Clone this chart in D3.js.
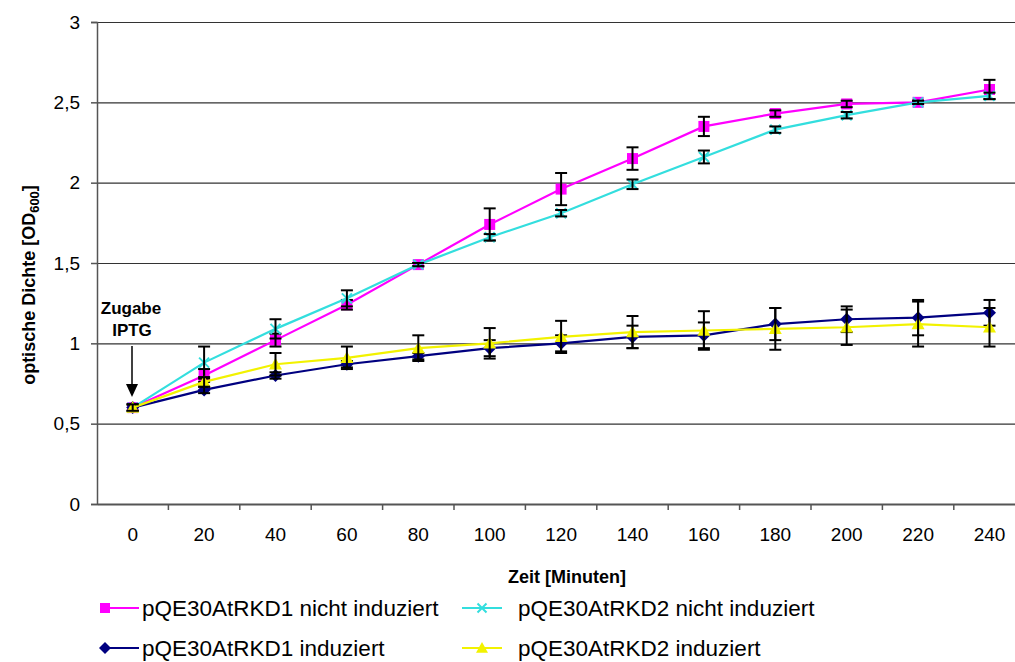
<!DOCTYPE html>
<html><head><meta charset="utf-8">
<script src="https://cdn.jsdelivr.net/npm/d3@7"></script>
<style>
body{margin:0;background:#fff}
text{font-family:"Liberation Sans",Arial,sans-serif;fill:#000}
</style>
</head><body>
<svg id="chart" width="1015" height="662"></svg>
<script>
// ---- data ----
const minutes = [0,20,40,60,80,100,120,140,160,180,200,220,240];
const xTickLabels = ["0","20","40","60","80","100","120","140","160","180","200","220","240"];
const yTicks = [0,0.5,1,1.5,2,2.5,3];
const yTickLabels = ["0","0,5","1","1,5","2","2,5","3"];

const seriesNames = ["pQE30AtRKD1 nicht induziert","pQE30AtRKD2 nicht induziert","pQE30AtRKD1 induziert","pQE30AtRKD2 induziert"];
const rkd1Nicht    = [0.60,0.80,1.02,1.24,1.49,1.74,1.96,2.15,2.35,2.43,2.49,2.50,2.58];
const rkd1NichtErr = [0.02,0.04,0.04,0.03,0.01,0.10,0.10,0.07,0.06,0.02,0.02,0.01,0.06];
const rkd2Nicht    = [0.60,0.88,1.09,1.28,1.49,1.66,1.81,1.99,2.16,2.33,2.42,2.50,2.54];
const rkd2NichtErr = [0.02,0.10,0.06,0.05,0.01,0.02,0.02,0.03,0.04,0.02,0.02,0.01,0.02];
const rkd1Ind      = [0.60,0.71,0.80,0.87,0.92,0.97,1.00,1.04,1.05,1.12,1.15,1.16,1.19];
const rkd1IndErr   = [0.02,0.02,0.02,0.02,0.02,0.05,0.05,0.07,0.08,0.10,0.08,0.11,0.08];
const rkd2Ind      = [0.60,0.76,0.87,0.91,0.97,1.00,1.04,1.07,1.08,1.09,1.10,1.12,1.10];
const rkd2IndErr   = [0.02,0.03,0.07,0.07,0.08,0.095,0.10,0.10,0.12,0.13,0.11,0.14,0.12];

const series = [
  {name:seriesNames[0], values:rkd1Nicht, err:rkd1NichtErr, color:"#ff00ff", marker:"square"},
  {name:seriesNames[1], values:rkd2Nicht, err:rkd2NichtErr, color:"#33dede", marker:"x"},
  {name:seriesNames[2], values:rkd1Ind,   err:rkd1IndErr,   color:"#000080", marker:"diamond"},
  {name:seriesNames[3], values:rkd2Ind,   err:rkd2IndErr,   color:"#f2f200", marker:"triangle"}
];

// ---- layout ----
const svg = d3.select("#chart");
const plotLeft = 97, plotTop = 22, plotBottom = 504, plotRight = 1025.2;
const x = d3.scaleBand().domain(minutes).range([plotLeft, plotRight]).padding(0);
const cx = m => x(m) + x.bandwidth()/2;
const y = d3.scaleLinear().domain([0,3]).range([plotBottom, plotTop]);

// gridlines
svg.append("g").attr("transform",`translate(${plotLeft},0)`)
  .call(d3.axisLeft(y).tickValues(yTicks.filter(v=>v>0)).tickSize(-(plotRight-plotLeft)).tickFormat(""))
  .call(g=>g.select(".domain").remove())
  .call(g=>g.selectAll("line").attr("stroke","#333").attr("stroke-width",1.2));

// y axis
svg.append("g").attr("transform",`translate(${plotLeft},0)`)
  .call(d3.axisLeft(y).tickValues(yTicks).tickFormat((d,i)=>yTickLabels[i]).tickSize(6).tickPadding(11))
  .call(g=>g.select(".domain").attr("stroke","#555").attr("stroke-width",1.5))
  .call(g=>g.selectAll("line").attr("stroke","#555").attr("stroke-width",1.5))
  .call(g=>g.selectAll("text").attr("font-size",19).attr("font-family","Liberation Sans, Arial, sans-serif").attr("fill","#000"));

// x axis labels (category centers)
svg.append("g").attr("transform",`translate(0,${plotBottom})`)
  .call(d3.axisBottom(x).tickFormat((d,i)=>xTickLabels[i]).tickSize(0).tickPadding(24))
  .call(g=>g.select(".domain").attr("stroke","#555").attr("stroke-width",2))
  .call(g=>g.selectAll("text").attr("font-size",19).attr("font-family","Liberation Sans, Arial, sans-serif").attr("fill","#000"));
// x tick marks at category boundaries
const boundaries = d3.range(1, minutes.length+1).map(k => plotLeft + k*x.step());
svg.append("g").selectAll("line").data(boundaries).join("line")
  .attr("x1",d=>d).attr("x2",d=>d).attr("y1",plotBottom).attr("y2",plotBottom+6)
  .attr("stroke","#555").attr("stroke-width",1.5);

// axis titles
svg.append("text").attr("x",567).attr("y",583).attr("text-anchor","middle")
  .attr("font-size",18).attr("font-weight","bold").text("Zeit [Minuten]");
const yt = svg.append("text").attr("transform","translate(35,285) rotate(-90)")
  .attr("text-anchor","middle").attr("font-size",18).attr("font-weight","bold");
yt.append("tspan").text("optische Dichte [OD");
yt.append("tspan").attr("font-size",13).attr("dy",4).text("600");
yt.append("tspan").attr("dy",-4).text("]");

// annotation
svg.append("text").attr("x",131).attr("y",314).attr("text-anchor","middle")
  .attr("font-size",17).attr("font-weight","bold").text("Zugabe");
svg.append("text").attr("x",132).attr("y",336).attr("text-anchor","middle")
  .attr("font-size",17).attr("font-weight","bold").text("IPTG");
svg.append("line").attr("x1",132).attr("x2",132).attr("y1",346).attr("y2",386)
  .attr("stroke","#000").attr("stroke-width",1.5);
svg.append("path").attr("d","M126,384 L138,384 L132,397 Z").attr("fill","#000");

// marker drawing
function drawMarker(g, type, color, size){
  if(type==="square"){
    g.append("rect").attr("x",-size/2).attr("y",-size/2).attr("width",size).attr("height",size).attr("fill",color);
  } else if(type==="diamond"){
    const s=size/2+1;
    g.append("path").attr("d",`M0,${-s}L${s},0L0,${s}L${-s},0Z`).attr("fill",color);
  } else if(type==="triangle"){
    const s=size/2+1;
    g.append("path").attr("d",`M0,${-s}L${s},${s*0.8}L${-s},${s*0.8}Z`).attr("fill",color);
  } else if(type==="x"){
    const s=size/2-0.5;
    g.append("path").attr("d",`M${-s},${-s}L${s},${s}M${-s},${s}L${s},${-s}`).attr("stroke",color).attr("stroke-width",2);
  }
}

const line = d3.line().x((d,i)=>cx(minutes[i])).y(d=>y(d));
series.forEach(s=>{
  const g = svg.append("g");
  g.append("path").datum(s.values).attr("d",line).attr("fill","none")
    .attr("stroke",s.color).attr("stroke-width",2.2);
  s.values.forEach((v,i)=>{
    const mg = g.append("g").attr("transform",`translate(${cx(minutes[i])},${y(v)})`);
    drawMarker(mg, s.marker, s.color, 11);
  });
  const eb = g.append("g").attr("stroke","#000").attr("stroke-width",2);
  s.values.forEach((v,i)=>{
    const px = cx(minutes[i]), e = s.err[i];
    const y1 = y(v+e), y2 = y(v-e);
    eb.append("line").attr("x1",px).attr("x2",px).attr("y1",y1).attr("y2",y2);
    eb.append("line").attr("x1",px-6).attr("x2",px+6).attr("y1",y1).attr("y2",y1);
    eb.append("line").attr("x1",px-6).attr("x2",px+6).attr("y1",y2).attr("y2",y2);
  });
});

// legend
const legendPos = [
  {lx1:100, lx2:139, mx:105, tx:142, ty:608},
  {lx1:462, lx2:502, mx:482, tx:518, ty:608},
  {lx1:100, lx2:139, mx:105, tx:142, ty:648},
  {lx1:462, lx2:502, mx:482, tx:518, ty:648}
];
series.forEach((s,i)=>{
  const p = legendPos[i];
  const g = svg.append("g");
  g.append("line").attr("x1",p.lx1).attr("x2",p.lx2).attr("y1",p.ty).attr("y2",p.ty)
    .attr("stroke",s.color).attr("stroke-width",2.2);
  const mg = g.append("g").attr("transform",`translate(${p.mx},${p.ty})`);
  drawMarker(mg, s.marker, s.color, 10);
  g.append("text").attr("x",p.tx).attr("y",p.ty).attr("dy","0.36em")
    .attr("font-size",22.5).text(s.name);
});
</script>
</body></html>
